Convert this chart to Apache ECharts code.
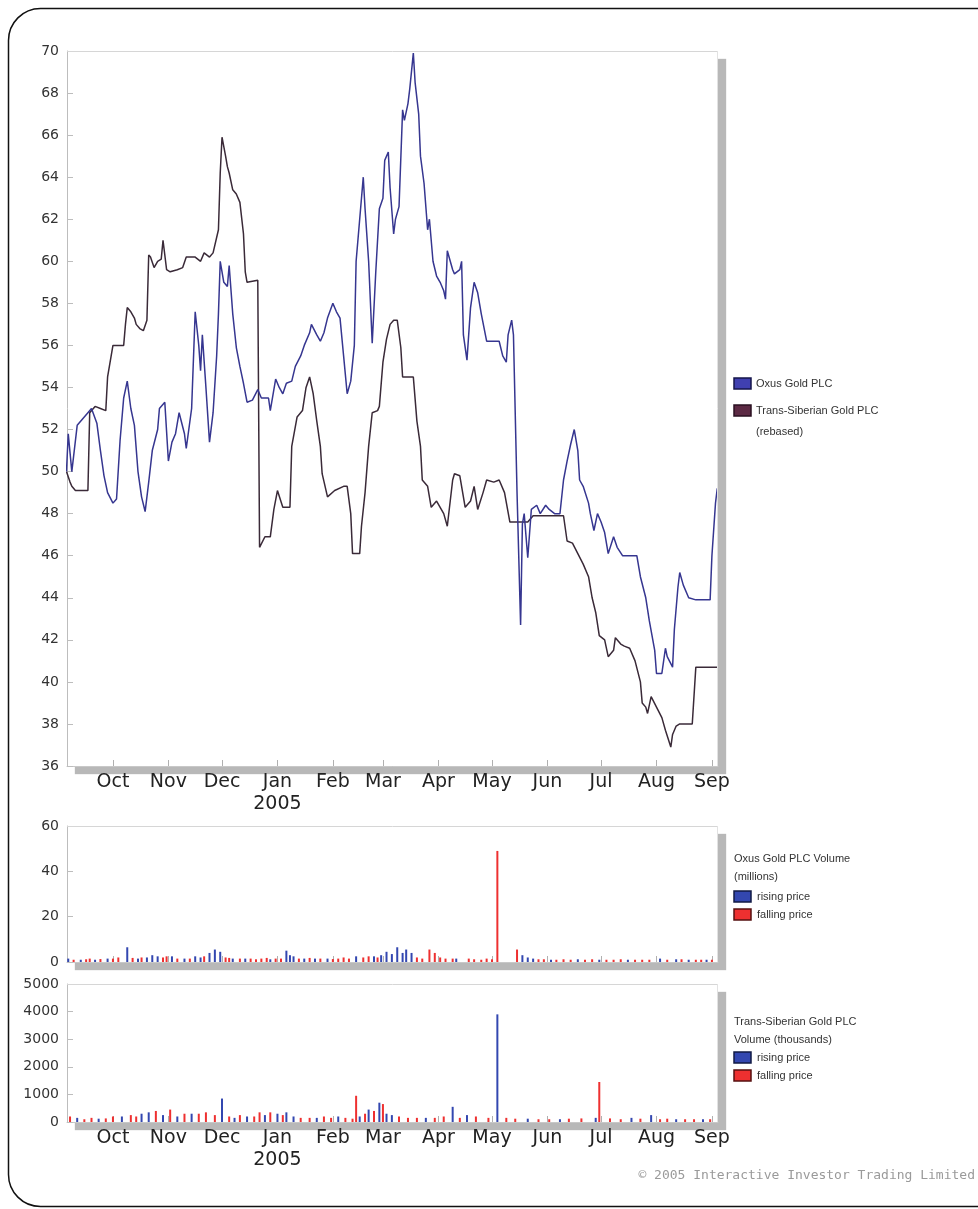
<!DOCTYPE html>
<html><head><meta charset="utf-8">
<script src="https://cdn.jsdelivr.net/npm/echarts@6/dist/echarts.min.js"></script>
<style>html,body{margin:0;padding:0;background:#fff}#c{width:978px;height:1209px}</style>
</head><body><div id="c"></div><script>
// day numbers are calendar days since 2004-09-01
const oxusPrice = [[4,50.0],[5,51.8],[7,50.0],[10,52.2],[13,52.5],[16,52.8],[18,53.0],[21,52.3],[23,51.0],[25,49.8],[27,49.0],[30,48.5],[32,48.7],[34,51.5],[36,53.5],[38,54.3],[40,53.0],[42,52.2],[44,50.0],[46,48.8],[48,48.1],[50,49.5],[52,51.0],[55,52.0],[56,53.0],[59,53.3],[61,50.5],[63,51.4],[65,51.8],[67,52.8],[70,51.8],[71,51.1],[74,53.0],[76,57.6],[78,56.0],[79,54.8],[80,56.5],[82,54.0],[84,51.4],[86,52.8],[88,55.5],[89,57.5],[90,60.0],[92,59.0],[94,58.8],[95,59.8],[97,57.5],[99,55.9],[101,55.0],[103,54.2],[105,53.3],[108,53.4],[111,53.9],[113,53.5],[117,53.5],[118,52.9],[121,54.4],[123,54.0],[125,53.7],[127,54.2],[130,54.3],[132,55.0],[135,55.5],[137,56.0],[140,56.6],[141,57.0],[144,56.5],[146,56.2],[148,56.6],[150,57.3],[153,58.0],[155,57.6],[157,57.3],[159,55.5],[161,53.7],[163,54.3],[165,56.0],[166,60.0],[168,62.0],[170,64.0],[171,62.5],[173,60.0],[175,56.1],[177,59.5],[179,62.5],[181,63.0],[182,64.8],[184,65.2],[185,63.5],[187,61.3],[188,62.0],[190,62.6],[192,67.2],[193,66.7],[195,67.5],[196,68.2],[198,69.9],[199,68.5],[201,67.0],[202,65.0],[204,63.7],[206,61.5],[207,62.0],[209,60.0],[211,59.3],[213,59.0],[215,58.6],[216,58.2],[217,60.5],[220,59.6],[221,59.4],[224,59.6],[225,60.0],[226,56.5],[228,55.3],[230,57.8],[232,59.0],[234,58.5],[236,57.5],[239,56.2],[242,56.2],[246,56.2],[248,55.5],[250,55.2],[251,56.5],[253,57.2],[254,56.5],[256,49.0],[258,42.7],[259,47.5],[260,48.0],[262,45.9],[264,48.2],[267,48.4],[269,48.0],[272,48.4],[274,48.2],[277,48.0],[280,48.0],[282,49.6],[284,50.5],[286,51.3],[288,52.0],[290,51.0],[291,49.6],[293,49.3],[296,48.5],[297,48.0],[299,47.2],[301,48.0],[303,47.6],[305,47.1],[307,46.1],[310,46.9],[312,46.4],[315,46.0],[319,46.0],[323,46.0],[325,45.0],[328,44.0],[330,42.9],[333,41.5],[334,40.4],[337,40.4],[339,41.6],[340,41.2],[343,40.7],[344,42.5],[346,44.5],[347,45.2],[349,44.6],[352,44.0],[356,43.9],[361,43.9],[364,43.9],[365,46.0],[367,48.5],[368,49.2]];
const transPrice = [[4,50.0],[6,49.5],[7,49.3],[9,49.1],[16,49.1],[17,52.8],[20,53.1],[23,53.0],[26,52.9],[27,54.5],[29,55.5],[30,56.0],[36,56.0],[37,57.0],[38,57.8],[40,57.6],[42,57.3],[43,57.0],[45,56.8],[47,56.7],[49,57.2],[50,60.3],[51,60.2],[53,59.7],[55,60.0],[57,60.1],[58,61.0],[60,59.6],[62,59.5],[66,59.6],[69,59.7],[71,60.2],[76,60.2],[79,60.0],[81,60.4],[84,60.2],[86,60.4],[89,61.5],[90,64.2],[91,65.9],[93,65.0],[94,64.5],[95,64.2],[97,63.4],[99,63.2],[101,62.8],[103,61.3],[104,59.5],[105,59.0],[111,59.1],[112,46.4],[115,46.9],[118,46.9],[120,48.2],[122,49.1],[125,48.3],[129,48.3],[130,51.2],[133,52.6],[136,52.9],[138,54.0],[140,54.5],[142,53.7],[144,52.4],[146,51.2],[147,49.9],[150,48.8],[154,49.1],[159,49.3],[161,49.3],[163,48.0],[164,46.1],[168,46.1],[169,47.4],[171,49.0],[173,51.2],[175,52.8],[178,52.9],[179,53.1],[181,55.2],[183,56.3],[185,57.0],[187,57.2],[189,57.2],[191,55.9],[192,54.5],[198,54.5],[200,52.4],[202,51.2],[203,49.6],[206,49.3],[208,48.3],[211,48.6],[213,48.3],[215,48.0],[217,47.4],[220,49.6],[221,49.9],[224,49.8],[227,48.3],[230,48.6],[232,49.3],[234,48.2],[237,49.0],[239,49.6],[243,49.5],[246,49.6],[249,49.0],[252,47.6],[262,47.6],[265,47.9],[282,47.9],[284,46.7],[287,46.6],[290,46.1],[293,45.6],[296,45.0],[298,44.0],[300,43.3],[302,42.2],[305,42.0],[307,41.2],[310,41.5],[311,42.1],[314,41.8],[316,41.7],[319,41.6],[322,41.0],[325,40.0],[326,39.0],[328,38.8],[329,38.5],[331,39.3],[334,38.8],[337,38.3],[339,37.7],[342,36.9],[343,37.5],[345,37.9],[347,38.0],[354,38.0],[356,40.7],[368,40.7]];
const oxusVolRising = [[5,1.5],[12,1.0],[20,1.0],[27,1.5],[38,6.5],[44,1.5],[49,2.0],[52,3.0],[55,2.5],[63,2.5],[70,1.5],[76,2.5],[79,2.0],[84,4.0],[87,5.5],[90,4.5],[97,1.5],[104,1.5],[118,1.2],[127,5.0],[129,3.0],[131,2.5],[137,1.5],[143,1.5],[150,1.5],[166,2.5],[176,2.5],[180,3.0],[183,4.5],[186,3.5],[189,6.5],[192,4.0],[194,5.5],[197,4.0],[222,1.5],[259,3.0],[262,2.0],[265,1.5],[275,1.0],[290,1.2],[302,1.0],[318,1.0],[336,1.5],[345,1.2],[352,1.0],[362,1.0]];
const oxusVolFalling = [[8,1.0],[15,1.2],[17,1.5],[23,1.3],[30,1.5],[33,2.0],[41,1.8],[46,2.0],[58,2.0],[60,2.5],[66,1.5],[73,1.5],[81,2.5],[93,2.0],[95,1.8],[101,1.5],[107,1.5],[110,1.2],[113,1.5],[116,1.8],[121,1.5],[124,1.5],[134,1.5],[140,1.8],[146,1.5],[153,1.3],[156,1.5],[159,2.0],[162,1.5],[170,2.0],[173,2.5],[178,2.0],[200,2.0],[203,1.5],[207,5.5],[210,4.0],[213,2.0],[216,1.5],[220,1.5],[229,1.5],[232,1.2],[236,1.0],[239,1.5],[242,1.2],[245,49.0],[256,5.5],[268,1.2],[271,1.2],[278,1.0],[282,1.2],[286,1.0],[294,1.0],[298,1.2],[306,1.0],[310,1.0],[314,1.2],[322,1.0],[326,1.0],[330,1.0],[340,1.0],[348,1.2],[356,1.0],[359,1.0],[365,1.0]];
const transVolRising = [[10,150],[22,120],[35,200],[46,300],[50,350],[58,250],[66,200],[74,300],[91,850],[98,150],[105,200],[115,250],[122,300],[127,350],[131,200],[144,150],[156,200],[168,200],[173,450],[179,700],[183,300],[186,250],[205,150],[220,550],[228,250],[245,3900],[262,120],[280,100],[300,150],[320,150],[331,250],[345,100],[360,100]];
const transVolFalling = [[6,200],[14,100],[18,150],[26,130],[30,200],[40,250],[43,200],[54,400],[62,450],[70,300],[78,300],[82,350],[87,250],[95,200],[101,250],[109,200],[112,350],[118,350],[125,250],[135,150],[140,150],[148,200],[152,150],[160,150],[164,120],[166,950],[171,300],[176,400],[181,650],[190,200],[195,150],[200,150],[210,150],[215,200],[224,150],[233,200],[240,150],[250,150],[255,120],[268,100],[274,100],[285,120],[292,130],[302,1450],[308,130],[314,100],[325,120],[336,100],[340,120],[350,100],[355,100],[364,100]];
const monthStarts = [[2004,9],[2004,10],[2004,11],[2005,0],[2005,1],[2005,2],[2005,3],[2005,4],[2005,5],[2005,6],[2005,7],[2005,8]];
const monthLabels = ['Oct','Nov','Dec','Jan\n2005','Feb','Mar','Apr','May','Jun','Jul','Aug','Sep'];
const seriesNames = ['Oxus Gold PLC','Trans-Siberian Gold PLC'];

const DAY = 86400000;
const DAY0 = Date.UTC(2004,8,1);
const toT = d => DAY0 + d*DAY;
const conv = arr => arr.map(p => [toT(p[0]), p[1]]);
const tickTimes = monthStarts.map(m => Date.UTC(m[0], m[1], 1));
const xMin = toT(4.3), xMax = toT(368.4);
const FONT = 'DejaVu Sans';
const LFONT = 'Liberation Sans';

function xAxis(gi, showLabel) {
  return {
    type:'value', gridIndex:gi, min:xMin, max:xMax, scale:true,
    axisLine:{show:true, onZero:false, lineStyle:{color:'#c8c8c8', width:1}},
    axisTick:{show:true, inside:true, length:6, lineStyle:{color:'#b0b0b0'}, customValues:tickTimes},
    axisLabel:{show:showLabel, customValues:tickTimes, hideOverlap:false, showMinLabel:true, showMaxLabel:true,
      formatter:(v)=>{ const i = tickTimes.findIndex(t=>Math.abs(t-v)<DAY); return i>=0?monthLabels[i]:''; },
      fontSize:19, color:'#222', fontFamily:FONT, margin:5, lineHeight:22},
    splitLine:{show:false}
  };
}
function yAxis(gi, min, max, interval) {
  return {
    type:'value', gridIndex:gi, min, max, interval,
    axisLine:{show:true, lineStyle:{color:'#bdbdbd'}},
    axisTick:{show:true, inside:true, length:6, lineStyle:{color:'#bdbdbd'}},
    axisLabel:{fontSize:14, color:'#333', fontFamily:FONT, margin:8, formatter:(v)=>String(v)},
    splitLine:{show:false}
  };
}
const gridBase = {show:true, backgroundColor:'#fff', borderWidth:0,
  shadowColor:'#b8b8b8', shadowBlur:1, shadowOffsetX:8, shadowOffsetY:8, containLabel:false};
const grids = [[67,51,651,715],[67,826,651,136],[67,984,651,138]];

const chart = echarts.init(document.getElementById('c'), null, {renderer:'canvas'});
const BLUE = '#3347b0', RED = '#ee3030';
function legendRect(x,y,fill,stroke){return {type:'rect', shape:{x,y,width:17,height:11}, style:{fill, stroke, lineWidth:1.5}, z:100};}
function legendText(x,y,text,size){return {type:'text', x, y, style:{text, fill:'#333', font:(size||11)+'px "'+LFONT+'"', verticalAlign:'middle'}, z:100};}
const borderLines = [];
grids.forEach(g => {
  borderLines.push({type:'line', shape:{x1:g[0], y1:g[1]+0.5, x2:g[0]+g[2], y2:g[1]+0.5}, style:{stroke:'#d6d6d6', lineWidth:1}, z:50, silent:true});
  borderLines.push({type:'line', shape:{x1:g[0]+g[2]-0.5, y1:g[1], x2:g[0]+g[2]-0.5, y2:g[1]+g[3]}, style:{stroke:'#e2e2e2', lineWidth:1}, z:50, silent:true});
});

chart.setOption({
  animation:false,
  backgroundColor:'#fff',
  grid: grids.map(g => Object.assign({left:g[0], top:g[1], width:g[2], height:g[3]}, gridBase)),
  xAxis:[xAxis(0,true), xAxis(1,false), xAxis(2,true)],
  yAxis:[yAxis(0,36,70,2), yAxis(1,0,60,20), yAxis(2,0,5000,1000)],
  series:[
    {name:seriesNames[1], type:'line', xAxisIndex:0, yAxisIndex:0, data:conv(transPrice), showSymbol:false, lineStyle:{color:'#3a2a38', width:1.5}, itemStyle:{color:'#3a2a38'}, clip:true},
    {name:seriesNames[0], type:'line', xAxisIndex:0, yAxisIndex:0, data:conv(oxusPrice), showSymbol:false, lineStyle:{color:'#363690', width:1.5}, itemStyle:{color:'#363690'}, clip:true},
    {name:'rising price', type:'bar', xAxisIndex:1, yAxisIndex:1, data:conv(oxusVolRising), barWidth:2, barGap:'-100%', itemStyle:{color:BLUE}},
    {name:'falling price', type:'bar', xAxisIndex:1, yAxisIndex:1, data:conv(oxusVolFalling), barWidth:2, barGap:'-100%', itemStyle:{color:RED}},
    {name:'rising price', type:'bar', xAxisIndex:2, yAxisIndex:2, data:conv(transVolRising), barWidth:2, barGap:'-100%', itemStyle:{color:BLUE}},
    {name:'falling price', type:'bar', xAxisIndex:2, yAxisIndex:2, data:conv(transVolFalling), barWidth:2, barGap:'-100%', itemStyle:{color:RED}}
  ],
  graphic: borderLines.concat([
    {type:'rect', shape:{x:8.5, y:8.5, width:1000, height:1198, r:32}, style:{fill:'none', stroke:'#111', lineWidth:1.5}, z:100, silent:true},
    legendRect(734,378,'#4040b0','#15154a'), legendText(756,384,seriesNames[0]),
    legendRect(734,405,'#5c2a44','#2a1020'), legendText(756,411,seriesNames[1]), legendText(756,432,'(rebased)'),
    legendText(734,859,'Oxus Gold PLC Volume'), legendText(734,877,'(millions)'),
    legendRect(734,891,BLUE,'#111a44'), legendText(757,897,'rising price'),
    legendRect(734,909,RED,'#551010'), legendText(757,915,'falling price'),
    legendText(734,1022,'Trans-Siberian Gold PLC'), legendText(734,1040,'Volume (thousands)'),
    legendRect(734,1052,BLUE,'#111a44'), legendText(757,1058,'rising price'),
    legendRect(734,1070,RED,'#551010'), legendText(757,1076,'falling price'),
    {type:'text', x:975, y:1176, style:{text:'\u00a9 2005 Interactive Investor Trading Limited', fill:'#9a9a9a', font:'13px "DejaVu Sans Mono"', align:'right', verticalAlign:'middle'}, z:100}
  ])
});
</script></body></html>
